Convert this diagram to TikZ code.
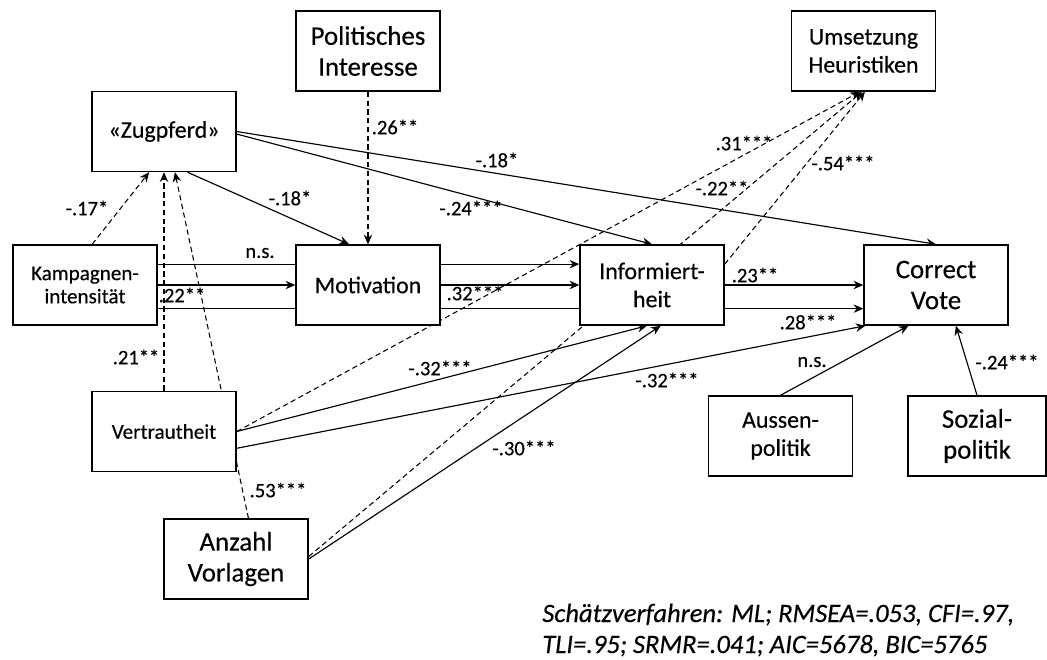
\documentclass[tikz,border=0pt]{standalone}
\usepackage{fontspec}
\setmainfont{Carlito}[FakeBold=0.35]
\usetikzlibrary{arrows.meta,backgrounds}

\newcommand\bigtxt{\fontsize{15.3pt}{17.6pt}\selectfont}
\newcommand\midtxt{\fontsize{13.6pt}{16pt}\selectfont}
\newcommand\smalltxt{\fontsize{12pt}{13.2pt}\selectfont}
\newcommand\coeftxt{\fontsize{11.7pt}{14pt}\selectfont}
\newcommand\foottxt{\fontsize{15.1pt}{17.6pt}\selectfont\itshape}

\begin{document}
\begin{tikzpicture}[x=0.02cm,y=-0.02cm,>={Stealth[length=5.5pt,width=4.8pt]},
  var node/.style={rectangle,draw,fill=white,line width=0.85pt,minimum width=2.88cm,
    minimum height=1.6cm,align=center,inner sep=1pt},
  coef/.style={font=\coeftxt,inner sep=0pt},
  link/.style={->,line width=0.65pt},
  dlink/.style={->,line width=0.6pt,dash pattern=on 3pt off 2pt}]

  \useasboundingbox (0,0) rectangle (1047,659);

  \node[var node,font=\bigtxt] (pol) at (368,51) {Politisches\\Interesse};
  \node[var node,font=\midtxt] (zug) at (164,131.5) {«Zugpferd»};
  \node[var node,font=\midtxt] (ums) at (863.5,51) {Umsetzung\\Heuristiken};
  \node[var node,font=\smalltxt] (kamp) at (85,285) {Kampagnen-\\intensität};
  \node[var node,font=\midtxt] (mot) at (368,285) {Motivation};
  \node[var node,font=\midtxt] (inf) at (652,285) {Informiert-\\heit};
  \node[var node,font=\bigtxt] (cv) at (936,285) {Correct\\Vote};
  \node[var node,font=\smalltxt] (ver) at (164,431.5) {Vertrautheit};
  \node[var node,font=\bigtxt] (anz) at (236,559) {Anzahl\\Vorlagen};
  \node[var node,font=\midtxt] (aus) at (780.5,436) {Aussen-\\politik};
  \node[var node,font=\bigtxt,minimum width=2.76cm] (soz) at (977,436) {Sozial-\\politik};

  \begin{pgfonlayer}{background}
    % Zugpferd
    \draw[link] (zug.-60) -- (mot.115);
    \draw[link] (zug.-2) -- (inf.north);
    \draw[link] (zug.east) -- (cv.north);
    \draw[dlink] (pol.south) -- (mot.north);
    % Kampagnenintensitaet
    \draw[dlink] (kamp.80) -- (zug.250);
    \draw[link] (kamp.16) -- (kamp.16 -| inf.west);
    \draw[link] (kamp.east) -- (mot.west);
    \draw[link] (kamp.-18) -- (kamp.-18 -| cv.west);
    \draw[link] (mot.east) -- (inf.west);
    \draw[link] (inf.east) -- (cv.west);
    % Vertrautheit
    \draw[dlink] (ver.north) -- (ver.north |- zug.south);
    \draw[link] (ver.east) -- (inf.-97);
    \draw[link] (ver.-13) -- (cv.-150);
    \draw[dlink] (ver.east) -- (ums.-95);
    % Anzahl Vorlagen
    \draw[dlink] (anz.73) -- (zug.-75);
    \draw[dlink] (anz.2) -- (ums.-92);
    \draw[link] (anz.east) -- (inf.-78);
    \draw[dlink] (inf.16) -- (ums.-88);
    % Politikbereich
    \draw[link] (aus.north) -- (cv.-124);
    \draw[link] (soz.north) -- (cv.-64);
  \end{pgfonlayer}

  \node[coef] (c1) at (290,198) {-.18*};
  \node[coef] (c2) at (471,208) {-.24***};
  \node[coef] (c3) at (497,160) {-.18*};
  \node[coef] (c4) at (395,127) {.26**};
  \node[coef] (c5) at (87,208) {-.17*};
  \node[coef] (c6) at (260,253) {n.s.};
  \node[coef] (c7) at (182,295) {.22**};
  \node[coef] (c8) at (475,293) {.32***};
  \node[coef] (c9) at (755,275) {.23**};
  \node[coef] (c10) at (808,322) {.28***};
  \node[coef] (c11) at (136,357) {.21**};
  \node[coef] (c12) at (278,490) {.53***};
  \node[coef] (c13) at (440,368) {-.32***};
  \node[coef] (c14) at (667,380) {-.32***};
  \node[coef] (c15) at (524,448) {-.30***};
  \node[coef] (c16) at (744,143) {.31***};
  \node[coef] (c17) at (722,188) {-.22**};
  \node[coef] (c18) at (843,163) {-.54***};
  \node[coef] (c19) at (812,362) {n.s.};
  \node[coef] (c20) at (1007,362) {-.24***};

  \node[font=\foottxt,anchor=base west,inner sep=0pt] (fit1) at (542,622)
    {Schätzverfahren: ML; RMSEA=.053, CFI=.97,};
  \node[font=\foottxt,anchor=base west,inner sep=0pt] (fit2) at (542,653)
    {TLI=.95; SRMR=.041; AIC=5678, BIC=5765};

\end{tikzpicture}
\end{document}
